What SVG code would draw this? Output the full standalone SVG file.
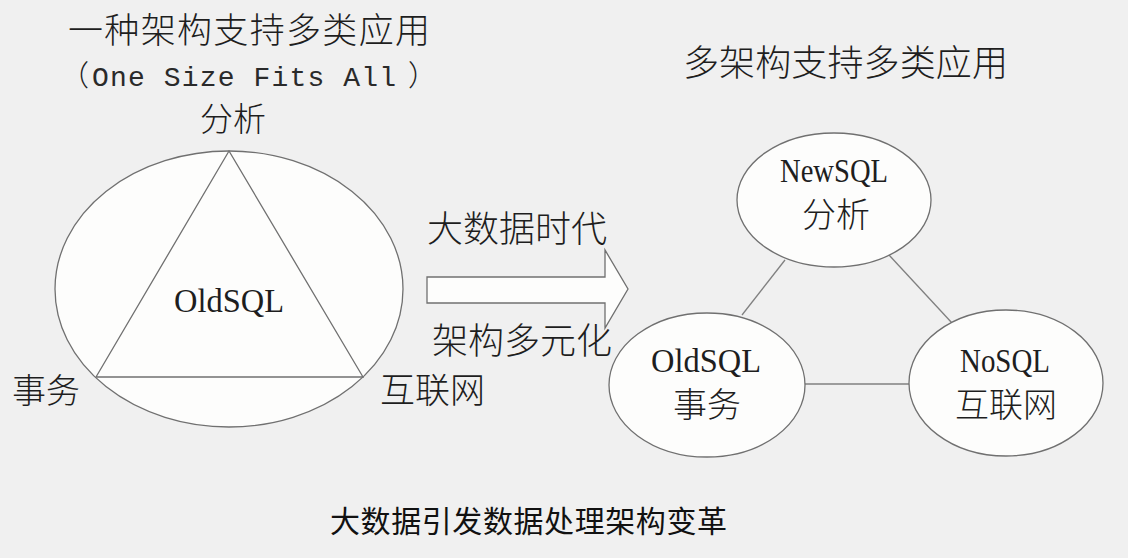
<svg xmlns="http://www.w3.org/2000/svg" width="1128" height="558" viewBox="0 0 1128 558">
<style>
.shape{fill:#fdfdfc;stroke:#707070;stroke-width:1.3}
.conn{stroke:#808080;stroke-width:1.3;fill:none}
.cjk{font-family:"Noto Sans CJK SC","Noto Sans CJK JP",sans-serif;fill:#1e1e1e;font-weight:300}
.lat{font-family:"Liberation Serif","Noto Sans CJK SC",serif;fill:#1e1e1e}
.mono{font-family:"Liberation Mono",monospace;fill:#2a2a2a}
.mid{text-anchor:middle}
.cap{font-family:"Noto Sans CJK SC","Noto Sans CJK JP",sans-serif;fill:#111;font-weight:400}
</style>
<rect width="1128" height="558" fill="#f0f0f0"/>
<g id="title-left">
<text class="cjk" x="68" y="43" font-size="35" textLength="362">一种架构支持多类应用</text>
<text class="cjk" x="60" y="86" font-size="29">（</text>
<text class="mono" x="92" y="86" font-size="28" textLength="304">One Size Fits All</text>
<text class="cjk" x="408" y="86" font-size="29">）</text>
</g>
<g id="one-size">
<ellipse class="shape" cx="229" cy="289" rx="174" ry="138"/>
<polygon class="shape" points="229,151 96,377 363,377"/>
<text class="lat mid" x="229" y="312" font-size="33" textLength="110" lengthAdjust="spacingAndGlyphs">OldSQL</text>
<text class="cjk mid" x="233" y="131" font-size="33">分析</text>
<text class="cjk" x="12" y="403" font-size="34">事务</text>
<text class="cjk" x="380" y="403" font-size="35">互联网</text>
</g>
<g id="transition">
<polygon class="shape" points="427,277 605,277 605,250 628,289 605,328 605,303 427,303"/>
<text class="cjk" x="427" y="242" font-size="36" textLength="180">大数据时代</text>
<text class="cjk" x="432" y="354" font-size="36" textLength="180">架构多元化</text>
</g>
<g id="title-right">
<text class="cjk" x="683" y="76" font-size="36" textLength="325">多架构支持多类应用</text>
</g>
<g id="connectors">
<line class="conn" x1="785" y1="260" x2="742" y2="315"/>
<line class="conn" x1="889" y1="255" x2="952" y2="323"/>
<line class="conn" x1="805" y1="384" x2="909" y2="384"/>
</g>
<g id="newsql">
<ellipse class="shape" cx="834" cy="200" rx="97" ry="67"/>
<text class="lat mid" x="834" y="182" font-size="33" textLength="108" lengthAdjust="spacingAndGlyphs">NewSQL</text>
<text class="cjk mid" x="836" y="227" font-size="34">分析</text>
</g>
<g id="oldsql">
<ellipse class="shape" cx="707" cy="385" rx="98" ry="72"/>
<text class="lat mid" x="706" y="372" font-size="33" textLength="110" lengthAdjust="spacingAndGlyphs">OldSQL</text>
<text class="cjk mid" x="707" y="417" font-size="34">事务</text>
</g>
<g id="nosql">
<ellipse class="shape" cx="1006" cy="383" rx="97" ry="73"/>
<text class="lat mid" x="1005" y="372" font-size="33" textLength="90" lengthAdjust="spacingAndGlyphs">NoSQL</text>
<text class="cjk mid" x="1006" y="417" font-size="34">互联网</text>
</g>
<g id="caption">
<text class="cap" x="330" y="532" font-size="30" textLength="397">大数据引发数据处理架构变革</text>
</g>
</svg>
